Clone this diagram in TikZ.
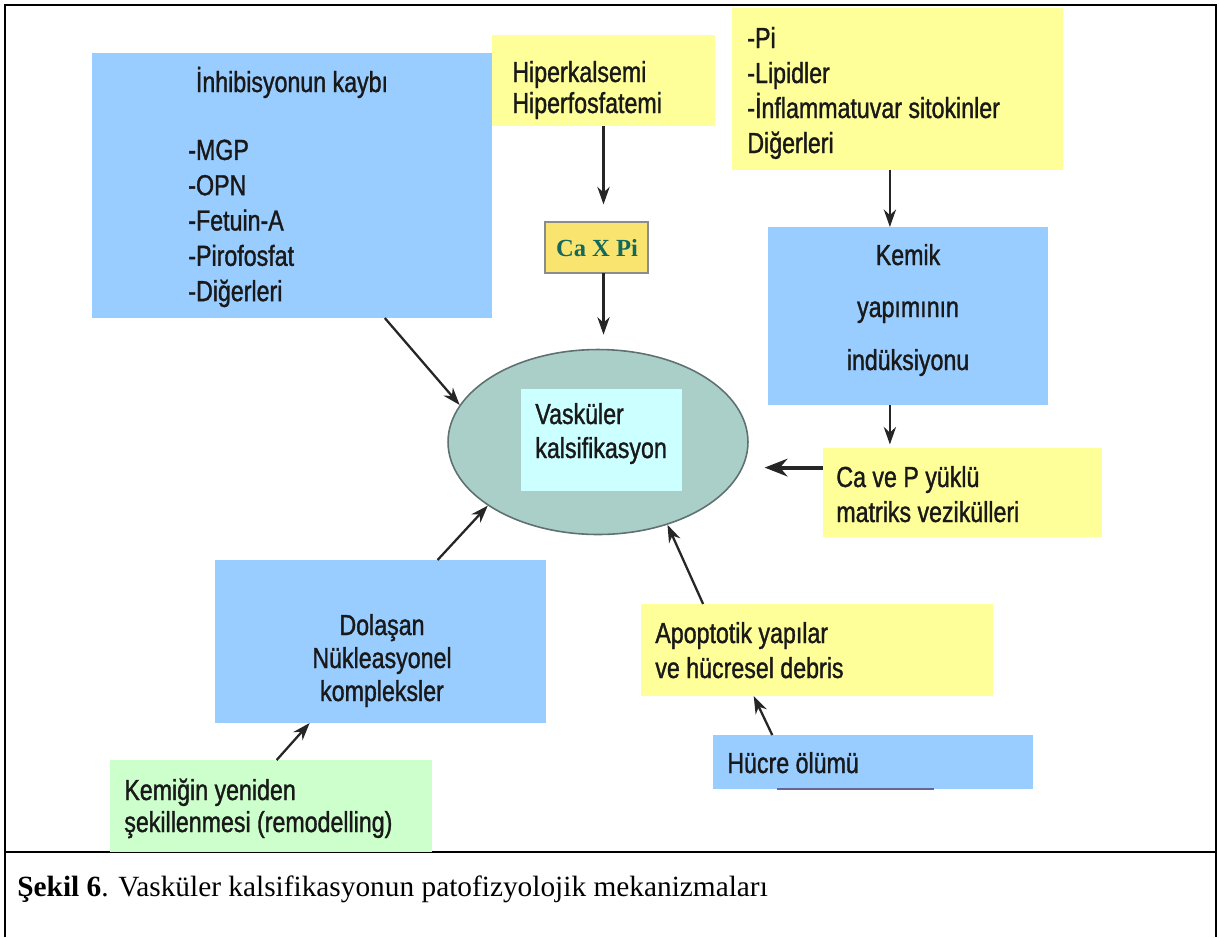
\documentclass[tikz,border=0pt]{standalone}
\usepackage{fontspec}
\setmainfont{Liberation Serif}
\newfontfamily\narrowsf[FakeStretch=0.8, FakeBold=1.2]{Liberation Sans}
\usetikzlibrary{arrows.meta, calc, fit, shapes.geometric}

\definecolor{boxblue}{RGB}{153,204,255}
\definecolor{boxyellow}{RGB}{255,255,153}
\definecolor{boxgreen}{RGB}{204,255,204}
\definecolor{boxcyan}{RGB}{204,255,255}
\definecolor{vaskfill}{RGB}{170,207,201}
\definecolor{vaskline}{RGB}{95,112,112}
\definecolor{caxfill}{RGB}{249,228,112}
\definecolor{caxtext}{RGB}{20,105,92}

\begin{document}
\begin{tikzpicture}[x=0.02cm, y=-0.02cm,
    box/.style={inner sep=0pt, outer sep=0pt, draw=none},
    bluebox/.style={box, fill=boxblue},
    yellowbox/.style={box, fill=boxyellow},
    greenbox/.style={box, fill=boxgreen},
    lbl/.style={font=\narrowsf\fontsize{16.5}{20}\selectfont, text=black!90, inner sep=0pt, anchor=base west},
    clbl/.style={lbl, anchor=base},
    arr/.style={-{Stealth[length=10pt,width=7pt]}, line width=1.3pt, black!85},
    frame/.style={line width=1.6pt, black}
  ]
  \useasboundingbox (0,0) rectangle (1219,937);

  % outer frame and caption rule
  \draw[frame] (5,937) -- (5,5) -- (1216,5) -- (1216,937);
  \draw[line width=1.2pt] (5,852) -- (1216,852);

  % boxes
  \node[bluebox, fit={(92,53) (492,318)}] (inhib) {};
  \node[yellowbox, fit={(492,35) (715,126)}] (hiper) {};
  \node[box, fill=caxfill, draw=black!45, line width=0.8pt, fit={(545,222) (648,273)}] (caxpi) {};
  \node[yellowbox, fit={(732,8) (1063,170)}] (pibox) {};
  \node[bluebox, fit={(768,227) (1048,405)}] (kemik) {};
  \node[yellowbox, fit={(823,448) (1102,537)}] (capbox) {};
  \node[ellipse, fill=vaskfill, draw=vaskline, line width=0.9pt,
        minimum width=6cm, minimum height=3.7cm, inner sep=0pt] (vask) at (598,442) {};
  \node[box, fill=boxcyan, fit={(521,389) (682,491)}] (vaskin) {};
  \node[bluebox, fit={(215,560) (546,723)}] (dolas) {};
  \node[greenbox, fit={(110,760) (432,852)}] (kemig) {};
  \node[yellowbox, fit={(641,604) (993,696)}] (apopt) {};
  \node[bluebox, fit={(713,735) (1033,789)}] (hucre) {};
  \draw[line width=1.6pt, black!70!blue!60] ($(hucre.south west)!0.2!(hucre.south east)$) coordinate (ul1)
    -- ($(hucre.south west)!0.69!(hucre.south east)$) coordinate (ul2);

  % texts
  \node[clbl] (tinhib) at (292,92) {İnhibisyonun kaybı};
  \foreach \t [count=\i] in {-MGP,-OPN,-Fetuin-A,-Pirofosfat,-Diğerleri}
    \node[lbl] (tinl\i) at (188,{124.6+35.3*\i}) {\t};
  \node[lbl] (thiper1) at (512,82) {Hiperkalsemi};
  \node[lbl] (thiper2) at (512,113) {Hiperfosfatemi};
  \node[anchor=base, inner sep=0pt, text=caxtext, font=\fontsize{14}{16}\selectfont\bfseries] (tcax) at (597,256) {Ca X Pi};
  \foreach \t [count=\i] in {-Pi,-Lipidler,-İnflammatuvar sitokinler,Diğerleri}
    \node[lbl] (tpi\i) at (747,{13+35*\i}) {\t};
  \node[clbl] (tkemik1) at (908,265) {Kemik};
  \node[clbl] (tkemik2) at (908,317) {yapımının};
  \node[clbl] (tkemik3) at (908,370) {indüksiyonu};
  \node[lbl] (tcap1) at (836,487) {Ca ve P yüklü};
  \node[lbl] (tcap2) at (836,522) {matriks vezikülleri};
  \node[lbl] (tvask1) at (535,424) {Vasküler};
  \node[lbl] (tvask2) at (535,458) {kalsifikasyon};
  \node[clbl] (tdolas1) at (382,635) {Dolaşan};
  \node[clbl] (tdolas2) at (382,668) {Nükleasyonel};
  \node[clbl] (tdolas3) at (382,701) {kompleksler};
  \node[lbl] (tkemig1) at (124,800) {Kemiğin yeniden};
  \node[lbl] (tkemig2) at (124,832) {şekillenmesi (remodelling)};
  \node[lbl] (tapopt1) at (655,643) {Apoptotik yapılar};
  \node[lbl] (tapopt2) at (655,678) {ve hücresel debris};
  \node[lbl] (thucre) at (727,773) {Hücre ölümü};

  % caption
  \node[anchor=base west, inner sep=0pt, font=\fontsize{16.7}{20}\selectfont] (caption) at (17,896)
    {\textbf{Şekil 6}. Vasküler kalsifikasyonun patofizyolojik mekanizmaları};

  % arrows
  \draw[arr] (inhib.-55) -- (vask.165);
  \draw[arr, shorten >=10] (hiper.south) -- (hiper.south |- caxpi.north);
  \draw[arr, shorten >=8] (caxpi.south -| hiper.south) -- (hiper.south |- vask.north);
  \draw[arr] ($(pibox.south west)!0.477!(pibox.south east)$) coordinate (pk) -- (pk |- kemik.north);
  \draw[arr, shorten >=2] (kemik.south -| pk) -- (pk |- capbox.north);
  \coordinate (cv) at ($(capbox.north west)!0.22!(capbox.south west)$);
  \draw[arr, line width=2.2pt, -{Stealth[length=13pt,width=10pt]}, shorten >=9] (cv) -- (cv -| vask.east);
  \draw[arr] (dolas.55) -- (vask.210);
  \draw[arr] (kemig.83) -- (dolas.229);
  \draw[arr] (apopt.158) -- (vask.310);
  \draw[arr] (hucre.165) -- (apopt.216);
\end{tikzpicture}
\end{document}
